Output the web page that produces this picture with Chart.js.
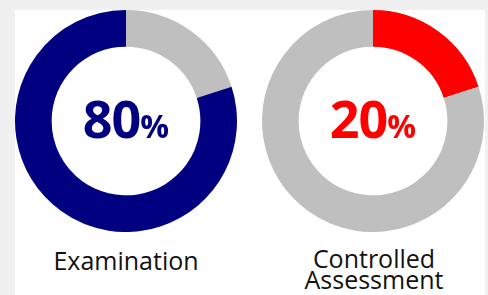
<!DOCTYPE html>
<html>
<head>
<meta charset="utf-8">
<script src="https://cdn.jsdelivr.net/npm/chart.js@4.4.0/dist/chart.umd.min.js"></script>
<style>
  html, body { margin: 0; padding: 0; background: #f0f0f0; }
  body { width: 488px; height: 295px; position: relative; overflow: hidden; font-family: 'Open Sans', sans-serif; }
  .panel { position: absolute; left: 15px; top: 10px; width: 470px; height: 290px; background: #fff; }
  .donut { position: absolute; top: 10px; width: 222px; height: 222px; }
  .center { position: absolute; left: 0; right: 0; top: 78px; text-align: center; font-weight: 700; font-size: 52px; line-height: 60px; letter-spacing: -1px; }
  .center small { font-size: 32px; letter-spacing: 0; }
  .label { position: absolute; width: 222px; text-align: center; font-size: 25px; line-height: 21px; color: #111; }
</style>
</head>
<body>
<div class="panel"></div>
<div class="donut" id="w0" style="left:15px"><canvas id="c0"></canvas><div class="center" id="t0"></div></div>
<div class="donut" id="w1" style="left:262px"><canvas id="c1"></canvas><div class="center" id="t1"></div></div>
<div class="label" id="l0" style="left:15px;top:250px"></div>
<div class="label" id="l1" style="left:263px;top:248px"></div>
<script>
(function () {

  // data
  const categories = ['Examination', 'Controlled Assessment'];
  const shares = [80, 20];          // percent of final grade
  const mainColors = ['#000080', '#ff0000'];
  const restColor = '#bfbfbf';

  function drawDonut(i) {
    const pct = shares[i];
    // left chart: grey remainder runs first from 12 o'clock; right chart: the share runs first
    const data = i === 0 ? [100 - pct, pct] : [pct, 100 - pct];
    const colors = i === 0 ? [restColor, mainColors[0]] : [mainColors[1], restColor];
    new Chart(document.getElementById('c' + i), {
      type: 'doughnut',
      data: { labels: i === 0 ? ['Other', categories[i]] : [categories[i], 'Other'],
        datasets: [{ data: data, backgroundColor: colors, borderWidth: 0 }] },
      options: {
        responsive: true, maintainAspectRatio: false, animation: false,
        cutout: '67%',
        layout: { padding: 0 },
        plugins: { legend: { display: false }, tooltip: { enabled: false } }
      }
    });
    const t = document.getElementById('t' + i);
    t.style.color = mainColors[i];
    t.innerHTML = pct + '<small>%</small>';
    const words = categories[i].split(' ');
    document.getElementById('l' + i).innerHTML = words.join('<br>');
  }

  drawDonut(0);
  drawDonut(1);

})();
</script>
</body>
</html>
